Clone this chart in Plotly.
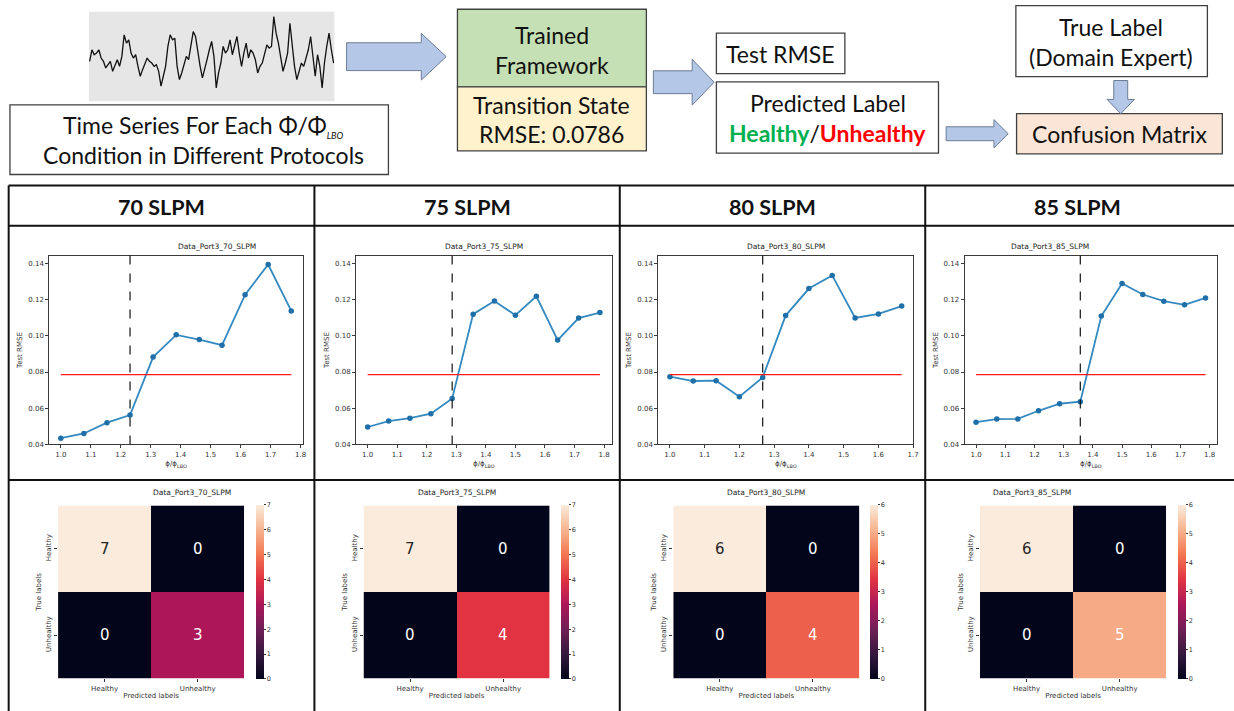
import plotly.graph_objects as go

W, H = 1234, 711

# ---------------- data ----------------
panel_headers = ["70 SLPM", "75 SLPM", "80 SLPM", "85 SLPM"]
plot_titles = ["Data_Port3_70_SLPM", "Data_Port3_75_SLPM", "Data_Port3_80_SLPM", "Data_Port3_85_SLPM"]

phi_70 = [1.0, 1.077, 1.154, 1.231, 1.308, 1.385, 1.462, 1.538, 1.615, 1.692, 1.769]
rmse_70 = [0.0433, 0.0459, 0.0519, 0.0561, 0.0883, 0.1006, 0.0980, 0.0949, 0.1229, 0.1396, 0.1139]
phi_75 = [1.0, 1.071, 1.143, 1.214, 1.286, 1.357, 1.429, 1.5, 1.571, 1.643, 1.714, 1.786]
rmse_75 = [0.0495, 0.0528, 0.0544, 0.0569, 0.0653, 0.1121, 0.1194, 0.1115, 0.1220, 0.0977, 0.1099, 0.1130]
phi_80 = [1.0, 1.067, 1.133, 1.2, 1.267, 1.333, 1.4, 1.467, 1.533, 1.6, 1.667]
rmse_80 = [0.0774, 0.0750, 0.0752, 0.0663, 0.0770, 0.1113, 0.1263, 0.1336, 0.1100, 0.1122, 0.1166]
phi_85 = [1.0, 1.071, 1.143, 1.214, 1.286, 1.357, 1.429, 1.5, 1.571, 1.643, 1.714, 1.786]
rmse_85 = [0.0522, 0.0539, 0.0540, 0.0585, 0.0624, 0.0635, 0.1110, 0.1291, 0.1230, 0.1193, 0.1173, 0.1211]
transition_phi = [1.231, 1.286, 1.267, 1.357]
threshold_rmse = 0.0786

cm_labels = ["Healthy", "Unhealthy"]
cm_70 = [[7, 0], [0, 3]]
cm_75 = [[7, 0], [0, 4]]
cm_80 = [[6, 0], [0, 4]]
cm_85 = [[6, 0], [0, 5]]

# sample time series (arbitrary units)
ts_signal = [0.5, 4, 2.5, 3, 4, 1.5, 0.5, -1.5, -0.5, 0.5, -2.5, -1, 1, -1, 2, 8.5, 6, 7, 3, 1.5,
             2.5, -1, -4, -2, 0, 1.5, 0.5, 0, -1, -0.5, -2.5, -7, -4, -1, 5, 8.5, 7, 7.5, -1, -5,
             -3, 0, 2, 1, 5, 9.5, 8, 3, -1, -4.5, -2, 1, 4, 6.5, 2, -7.5, -3, 0, 5, 3,
             4, 7, 2.5, 5, 8, 3, -1, 3, 6, 1.5, 4, 3, 1, -3, -1, 0, 3, 5.5, 4.5, 5,
             14, 9, 6, 1, -2.5, 0, 3, 12, 6, -1, -5, -2, 0, -1, 2, 4, 8, 2, -4, 2.5,
             -1, -7.5, 0, 5, 9, 4, 0]

phis = [phi_70, phi_75, phi_80, phi_85]
rmses = [rmse_70, rmse_75, rmse_80, rmse_85]
cms = [cm_70, cm_75, cm_80, cm_85]

# ---------------- helpers ----------------
def px(x):
    return x / W

def py(y):
    return 1 - y / H

def xr_(n):
    return "x" if n == 1 else f"x{n}"

def yr_(n):
    return "y" if n == 1 else f"y{n}"

def xa_(n):
    return "xaxis" if n == 1 else f"xaxis{n}"

def ya_(n):
    return "yaxis" if n == 1 else f"yaxis{n}"

rocket = [[0.0, "#03051a"], [0.143, "#35193e"], [0.286, "#701f57"], [0.429, "#ad1759"],
          [0.571, "#e13342"], [0.714, "#f37651"], [0.857, "#f6b48f"], [1.0, "#faebdd"]]

MPL = "DejaVu Sans"
OFF = "Lato"
TXT = "#333333"

fig = go.Figure()
layout = dict(width=W, height=H, margin=dict(l=0, r=0, t=0, b=0),
              paper_bgcolor="white", plot_bgcolor="white", showlegend=False,
              font=dict(family=MPL, color=TXT))
shapes = []
annotations = []

# ---------------- line charts ----------------
line_x_dom = [(49.5, 304), (357.5, 614), (661, 917), (968.5, 1222)]
line_y_top, line_y_bot = 257, 447
for i in range(4):
    n = i + 1
    xs, ys = phis[i], rmses[i]
    span = max(xs) - min(xs)
    xr = [min(xs) - 0.05 * span, max(xs) + 0.05 * span]
    ax = dict(domain=[px(line_x_dom[i][0]), px(line_x_dom[i][1])], anchor=yr_(n),
              range=xr, showline=True, mirror=True, linecolor="#3a3a3a", linewidth=1,
              ticks="outside", ticklen=3, tickcolor="#3a3a3a", dtick=0.1, tickformat=".1f",
              tickfont=dict(family=MPL, size=7, color=TXT), showgrid=False, zeroline=False,
              title=dict(text="ϕ/ϕ<sub>LBO</sub>", font=dict(family=MPL, size=7, color=TXT), standoff=3))
    ay = dict(domain=[py(line_y_bot), py(line_y_top)], anchor=xr_(n),
              range=[0.0398, 0.1446], showline=True, mirror=True, linecolor="#3a3a3a", linewidth=1,
              ticks="outside", ticklen=3, tickcolor="#3a3a3a", dtick=0.02, tick0=0.04, tickformat=".2f",
              tickfont=dict(family=MPL, size=7, color=TXT), showgrid=False, zeroline=False,
              title=dict(text="Test RMSE", font=dict(family=MPL, size=7, color=TXT), standoff=4))
    layout[xa_(n)] = ax
    layout[ya_(n)] = ay
    fig.add_trace(go.Scatter(x=xs, y=ys, mode="lines+markers", xaxis=xr_(n), yaxis=yr_(n),
                             line=dict(color="#3389c0", width=1.8),
                             marker=dict(color="#1f6fa8", size=5.5)))
    fig.add_trace(go.Scatter(x=[xs[0], xs[-1]], y=[threshold_rmse, threshold_rmse], mode="lines",
                             xaxis=xr_(n), yaxis=yr_(n), line=dict(color="#ff1a1a", width=1.2)))
    shapes.append(dict(type="line", xref=xr_(n), yref=f"{yr_(n)} domain", x0=transition_phi[i],
                       x1=transition_phi[i], y0=0, y1=1, line=dict(color="#111", width=1.2, dash="dash")))
    annotations.append(dict(text=plot_titles[i], xref="paper", yref="paper",
                            x=px((line_x_dom[i][0] + line_x_dom[i][1]) / 2), y=py(247.5),
                            showarrow=False, font=dict(family=MPL, size=7.5, color="#222")))

# ---------------- heatmaps ----------------
hm_x = [(58.3, 245.3), (365, 552), (676, 863), (984, 1171)]
cb_x = [256.7, 563, 874, 1183]
hm_top, hm_bot = 508.3, 682.3
for i in range(4):
    n = i + 5
    z = cms[i]
    zmax = max(max(r) for r in z)
    layout[xa_(n)] = dict(domain=[px(hm_x[i][0]), px(hm_x[i][1])], anchor=yr_(n),
                          range=[-0.5, 1.5], showgrid=False, zeroline=False, showline=False,
                          ticks="outside", ticklen=3, tickcolor=TXT,
                          tickfont=dict(family=MPL, size=7, color=TXT),
                          title=dict(text="Predicted labels", font=dict(family=MPL, size=7, color=TXT), standoff=1))
    layout[ya_(n)] = dict(domain=[py(hm_bot), py(hm_top)], anchor=xr_(n),
                          range=[1.5, -0.5], showgrid=False, zeroline=False, showline=False,
                          ticks="outside", ticklen=3, tickcolor=TXT, tickangle=-90,
                          tickfont=dict(family=MPL, size=7, color=TXT),
                          title=dict(text="True labels", font=dict(family=MPL, size=7, color=TXT), standoff=2))
    fig.add_trace(go.Heatmap(z=z, x=cm_labels, y=cm_labels, xaxis=xr_(n), yaxis=yr_(n),
                             colorscale=rocket, zmin=0, zmax=zmax, showscale=True,
                             colorbar=dict(x=px(cb_x[i]), xanchor="left", xref="paper",
                                           y=py((hm_top + hm_bot) / 2), yanchor="middle", yref="paper",
                                           len=hm_bot - hm_top, lenmode="pixels", thickness=7.6,
                                           thicknessmode="pixels", xpad=0, ypad=0, outlinewidth=0,
                                           ticks="outside", ticklen=2, tickcolor=TXT, dtick=1,
                                           tickfont=dict(family=MPL, size=6.5, color=TXT))))
    for r in range(2):
        for c in range(2):
            v = z[r][c]
            annotations.append(dict(text=str(v), xref=xr_(n), yref=yr_(n), x=cm_labels[c], y=cm_labels[r],
                                    showarrow=False,
                                    font=dict(family=MPL, size=15,
                                              color="#262626" if v / zmax > 0.9 else "white")))
    annotations.append(dict(text=plot_titles[i], xref="paper", yref="paper",
                            x=px((hm_x[i][0] + hm_x[i][1]) / 2), y=py(501.5),
                            showarrow=False, font=dict(family=MPL, size=7.5, color="#222")))

# ---------------- time series thumbnail ----------------
ts_box = (89.3, 11.7, 335.7, 101.7)
shapes.append(dict(type="rect", xref="paper", yref="paper", x0=px(ts_box[0]), x1=px(ts_box[2]),
                   y0=py(ts_box[3]), y1=py(ts_box[1]), fillcolor="#e7e6e6", line=dict(width=0), layer="below"))
layout["xaxis9"] = dict(domain=[px(ts_box[0]), px(ts_box[2])], anchor="y9", visible=False,
                        range=[-0.3, len(ts_signal) - 0.7])
layout["yaxis9"] = dict(domain=[py(ts_box[3]), py(ts_box[1])], anchor="x9", visible=False,
                        range=[-11.5, 15.5])
fig.add_trace(go.Scatter(x=list(range(len(ts_signal))), y=ts_signal, mode="lines", xaxis="x9", yaxis="y9",
                         line=dict(color="#111", width=1.3)))

# ---------------- diagram boxes ----------------
BORDER = dict(color="#404040", width=1.3)
FS = 23

def box(x0, y0, x1, y1, fill="white"):
    shapes.append(dict(type="rect", xref="paper", yref="paper", x0=px(x0), x1=px(x1),
                       y0=py(y1), y1=py(y0), fillcolor=fill, line=BORDER))

def label(text, x, y, size=FS, bold=False, color="#111"):
    annotations.append(dict(text=f"<b>{text}</b>" if bold else text, xref="paper", yref="paper",
                            x=px(x), y=py(y), showarrow=False, xanchor="center", yanchor="middle",
                            font=dict(family=OFF, size=size, color=color)))

box(10, 105.5, 390, 175.5)
label("Time Series For Each Φ/Φ<sub><span style='font-size:9px'><i>LBO</i></span></sub>", 204, 127)
label("Condition in Different Protocols", 204, 156)

box(459.3, 9.3, 649, 87.3, "#c5e0b4")
box(459.3, 87.3, 649, 151.7, "#fff2cc")
label("Trained", 554, 35)
label("Framework", 554, 65)
label("Transition State", 554, 105.5)
label("RMSE: 0.0786", 554, 134.5)

box(719.3, 33.3, 848.3, 74)
label("Test RMSE", 784, 54)
box(719.3, 82.3, 942.3, 154)
label("Predicted Label", 831, 104)
label("<b><span style='color:#00b050'>Healthy</span></b>/<b><span style='color:#ff0000'>Unhealthy</span></b>", 831, 134)

box(1020, 5.7, 1212.3, 77)
label("True Label", 1116, 27)
label("(Domain Expert)", 1116, 57.5)
box(1020.7, 114.3, 1227.3, 154.7, "#fbe5d6")
label("Confusion Matrix", 1124, 135)

ARROW_FILL = "#b4c7e7"
ARROW_LINE = dict(color="#6b7b95", width=1)

def right_arrow(x0, xh, x1, yc, bh, hh):
    pts = [(x0, yc - bh), (xh, yc - bh), (xh, yc - hh), (x1, yc), (xh, yc + hh), (xh, yc + bh), (x0, yc + bh)]
    path = "M " + " L ".join(f"{px(a):.5f},{py(b):.5f}" for a, b in pts) + " Z"
    shapes.append(dict(type="path", xref="paper", yref="paper", path=path, fillcolor=ARROW_FILL, line=ARROW_LINE))

def down_arrow(y0, yh, y1, xc, bw, hw):
    pts = [(xc - bw, y0), (xc + bw, y0), (xc + bw, yh), (xc + hw, yh), (xc, y1), (xc - hw, yh), (xc - bw, yh)]
    path = "M " + " L ".join(f"{px(a):.5f},{py(b):.5f}" for a, b in pts) + " Z"
    shapes.append(dict(type="path", xref="paper", yref="paper", path=path, fillcolor=ARROW_FILL, line=ARROW_LINE))

right_arrow(348, 423, 448, 57, 14, 23.5)
right_arrow(656, 695, 717, 82.7, 11.5, 23)
right_arrow(950, 998, 1012.3, 134.5, 7, 14.2)
down_arrow(81, 100, 114.3, 1125.3, 7, 13.7)

# ---------------- table ----------------
TL = dict(color="#111", width=2)
tx0, ty0 = 8.7, 186.5
for (a, b, c, d) in [(tx0, ty0, W + 5, ty0), (tx0, 227, W + 5, 227), (tx0, 482.7, W + 5, 482.7),
                     (tx0, ty0, tx0, H + 5), (315.7, ty0, 315.7, H + 5), (622.3, ty0, 622.3, H + 5),
                     (929, ty0, 929, H + 5)]:
    shapes.append(dict(type="line", xref="paper", yref="paper", x0=px(a), x1=px(c), y0=py(b), y1=py(d), line=TL))

cell_centers = [162.2, 469, 775.7, 1081.5]
for i in range(4):
    label(panel_headers[i], cell_centers[i], 208, size=21.5, bold=True)

layout["shapes"] = shapes
layout["annotations"] = annotations
fig.update_layout(**layout)
fig.write_html("out.html")
